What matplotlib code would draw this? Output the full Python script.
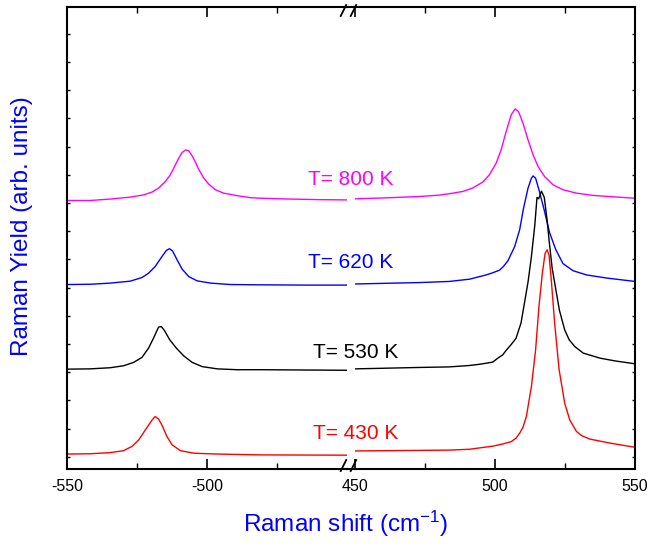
import numpy as np
import matplotlib
matplotlib.use("Agg")
import matplotlib.pyplot as plt
from matplotlib.ticker import MultipleLocator, FixedLocator
from matplotlib.lines import Line2D

plt.rcParams['font.family'] = ['Liberation Sans', 'DejaVu Sans']
plt.rcParams['mathtext.fontset'] = 'custom'
plt.rcParams['mathtext.rm'] = 'Liberation Sans'
plt.rcParams['mathtext.it'] = 'Liberation Sans:italic'
plt.rcParams['axes.unicode_minus'] = False

# spektri procitani sa slike (anti-Stokes lijevo, Stokes desno), y u proizvoljnim jedinicama
# T = 800 K
x800_as = [-550, -541.8, -534.6, -527.4, -522.6, -519.6, -517.3, -514.9, -513.1, -511.3,
           -510.1, -508.9, -507.7, -506.5, -505.3, -504.1, -502.9, -501.1, -499.4, -497.0,
           -494.0, -489.2, -484.4, -480.8, -470, -460, -450]
y800_as = [9.09, 9.09, 9.14, 9.21, 9.29, 9.39, 9.53, 9.76, 10.0, 10.35,
           10.59, 10.79, 10.88, 10.85, 10.67, 10.44, 10.18, 9.88, 9.67, 9.47,
           9.35, 9.26, 9.19, 9.17, 9.14, 9.12, 9.11]
x800_s = [450, 460, 472.9, 480, 483.7, 488.5, 492.0, 495.6, 498.0, 500.4, 502.2, 504.0, 505.8,
          507.2, 508.4, 510.0, 511.8, 513.6, 515.4, 517.7, 520.7, 524.3, 529.1, 535.1, 542.3, 550]
y800_s = [9.15, 9.18, 9.23, 9.28, 9.33, 9.41, 9.53, 9.74, 10.0, 10.41, 10.89, 11.54, 12.13,
          12.34, 12.24, 11.83, 11.24, 10.71, 10.29, 9.94, 9.65, 9.47, 9.35, 9.27, 9.22, 9.17]

# T = 620 K
x620_as = [-550, -541.8, -534.6, -527.4, -523.2, -520.9, -518.5, -516.1, -514.5, -513.4,
           -512.3, -510.7, -508.9, -506.5, -503.5, -498.7, -491.6, -480.8, -465, -450]
y620_as = [6.11, 6.12, 6.16, 6.23, 6.36, 6.51, 6.75, 7.10, 7.32, 7.38,
           7.30, 6.99, 6.66, 6.39, 6.24, 6.16, 6.11, 6.10, 6.09, 6.09]
x620_s = [450, 473.0, 483.7, 490.9, 496.8, 499.0, 501.6, 503.0, 504.6, 507.0, 508.8, 510.2,
          511.8, 513.0, 513.6, 514.5, 515.7, 517.4, 519.5, 521.7, 524.3, 527.9, 532.7, 539.9, 550]
y620_s = [6.13, 6.18, 6.22, 6.30, 6.45, 6.52, 6.62, 6.75, 6.95, 7.45, 8.05, 8.82,
          9.53, 9.88, 9.96, 9.88, 9.47, 8.82, 7.95, 7.35, 6.85, 6.60, 6.45, 6.34, 6.22]

# T = 530 K
x530_as = [-550, -541.8, -534.6, -529.8, -526.2, -523.2, -520.9, -519.1, -517.3, -516.3,
           -515.2, -513.3, -510.9, -508.3, -505.3, -501.7, -496.3, -489.2, -480.8, -450]
y530_as = [3.11, 3.12, 3.16, 3.23, 3.35, 3.53, 3.85, 4.21, 4.60, 4.62,
           4.48, 4.15, 3.85, 3.58, 3.35, 3.20, 3.12, 3.09, 3.09, 3.07]
x530_s = [450, 472.9, 483.7, 490.9, 495.0, 499.2, 501.0, 502.8, 504.0, 505.5, 507.5, 509.3,
          510.6, 511.8, 513.0, 514.2, 515.0, 515.6, 516.6, 517.6, 518.6, 519.4, 520.4, 521.7,
          523.0, 524.9, 526.5, 528.5, 531.5, 537.5, 543.0, 550]
y530_s = [3.12, 3.17, 3.19, 3.24, 3.29, 3.36, 3.50, 3.62, 3.78, 3.95, 4.2, 4.75,
          5.5, 6.2, 7.1, 8.2, 9.2, 9.15, 9.42, 9.2, 8.4, 7.6, 6.7, 5.95,
          5.2, 4.5, 4.15, 3.91, 3.68, 3.50, 3.40, 3.30]

# T = 430 K
x430_as = [-550, -541.8, -534.6, -529.8, -526.8, -524.4, -522.0, -519.6, -518.5, -517.3,
           -516.1, -514.3, -512.5, -509.5, -504.7, -496.3, -480.8, -450]
y430_as = [0.10, 0.11, 0.15, 0.22, 0.37, 0.60, 0.96, 1.31, 1.43, 1.34,
           1.13, 0.72, 0.43, 0.22, 0.13, 0.10, 0.07, 0.06]
x430_s = [450, 472.9, 483.7, 490.9, 499.2, 502.5, 505.8, 507.5, 508.8, 510.0, 511.2, 513.0,
          514.5, 515.7, 516.9, 517.9, 518.6, 519.3, 520.1, 521.3, 522.9, 524.9, 526.7, 529.1,
          531.0, 533.9, 541.0, 550]
y430_s = [0.21, 0.23, 0.24, 0.27, 0.38, 0.45, 0.54, 0.66, 0.84, 1.05, 1.43, 2.49,
          3.79, 5.33, 6.51, 7.22, 7.34, 7.16, 6.28, 4.74, 3.09, 1.90, 1.31, 0.90,
          0.75, 0.63, 0.49, 0.34]

labels = ["T= 800 K", "T= 620 K", "T= 530 K", "T= 430 K"]
colors = ["#ff00ff", "#0000ff", "black", "#ff0000"]

W, H = 648, 545
fig = plt.figure(figsize=(W / 100, H / 100), dpi=100)

def fx(px):
    return px / W

def fy(py):
    return 1 - py / H

bottom = fy(469)
height = (469 - 7) / H
ax1 = fig.add_axes([fx(67), bottom, 280 / W, height])
ax2 = fig.add_axes([fx(355), bottom, 280 / W, height])

left_data = [(x800_as, y800_as), (x620_as, y620_as), (x530_as, y530_as), (x430_as, y430_as)]
right_data = [(x800_s, y800_s), (x620_s, y620_s), (x530_s, y530_s), (x430_s, y430_s)]

for (x, y), c in zip(left_data, colors):
    ax1.plot(x, y, color=c, lw=1.0)
for (x, y), c in zip(right_data, colors):
    ax2.plot(x, y, color=c, lw=1.0)

ax1.set_xlim(-550, -450)
ax2.set_xlim(450, 550)
for ax in (ax1, ax2):
    ax.set_ylim(-0.43, 15.95)
    ax.yaxis.set_major_locator(MultipleLocator(1))
    for s in ax.spines.values():
        s.set_linewidth(1.5)
    ax.tick_params(axis='x', which='major', direction='in', length=7, width=1.2,
                   top=True, labelsize=11.5, pad=7)
    ax.tick_params(axis='x', which='minor', direction='in', length=4, width=1.0, top=True)
    ax.tick_params(axis='y', direction='in', length=2.5, width=1.0, labelleft=False,
                   labelright=False)

ax1.xaxis.set_major_locator(FixedLocator([-550, -500]))
ax1.xaxis.set_minor_locator(FixedLocator([-525, -475]))
ax2.xaxis.set_major_locator(FixedLocator([450, 500, 550]))
ax2.xaxis.set_minor_locator(FixedLocator([475, 525]))

ax1.spines['right'].set_visible(False)
ax2.spines['left'].set_visible(False)
ax1.tick_params(axis='y', left=True, right=False)
ax2.tick_params(axis='y', left=False, right=True)

# spoj okvira preko prekida i oznake //
for py in (7, 469):
    fig.add_artist(Line2D([fx(346), fx(356)], [fy(py), fy(py)], transform=fig.transFigure,
                          color='black', lw=1.5))
for x0 in (340.7, 350.7):
    fig.add_artist(Line2D([fx(x0), fx(x0 + 5.5)], [fy(16), fy(5)], transform=fig.transFigure,
                          color='black', lw=1.3))
    fig.add_artist(Line2D([fx(x0), fx(x0 + 5.5)], [fy(471), fy(460)], transform=fig.transFigure,
                          color='black', lw=1.3))

# natpisi temperatura
text_pos = [(308, 185), (308, 268), (313, 358), (313, 439)]
for (px, py), lab, c in zip(text_pos, labels, colors):
    fig.text(fx(px), fy(py), lab, color=c, fontsize=15, ha='left', va='baseline')

fig.text(fx(22), fy(226), "Raman Yield (arb. units)", color='#0000ff', fontsize=17.5,
         rotation=90, ha='center', va='center')
fig.text(fx(346), fy(524), r"Raman shift (cm$^{-1}$)", color='#0000ff', fontsize=17.5,
         ha='center', va='center')

fig.savefig("out.png", dpi=100)
